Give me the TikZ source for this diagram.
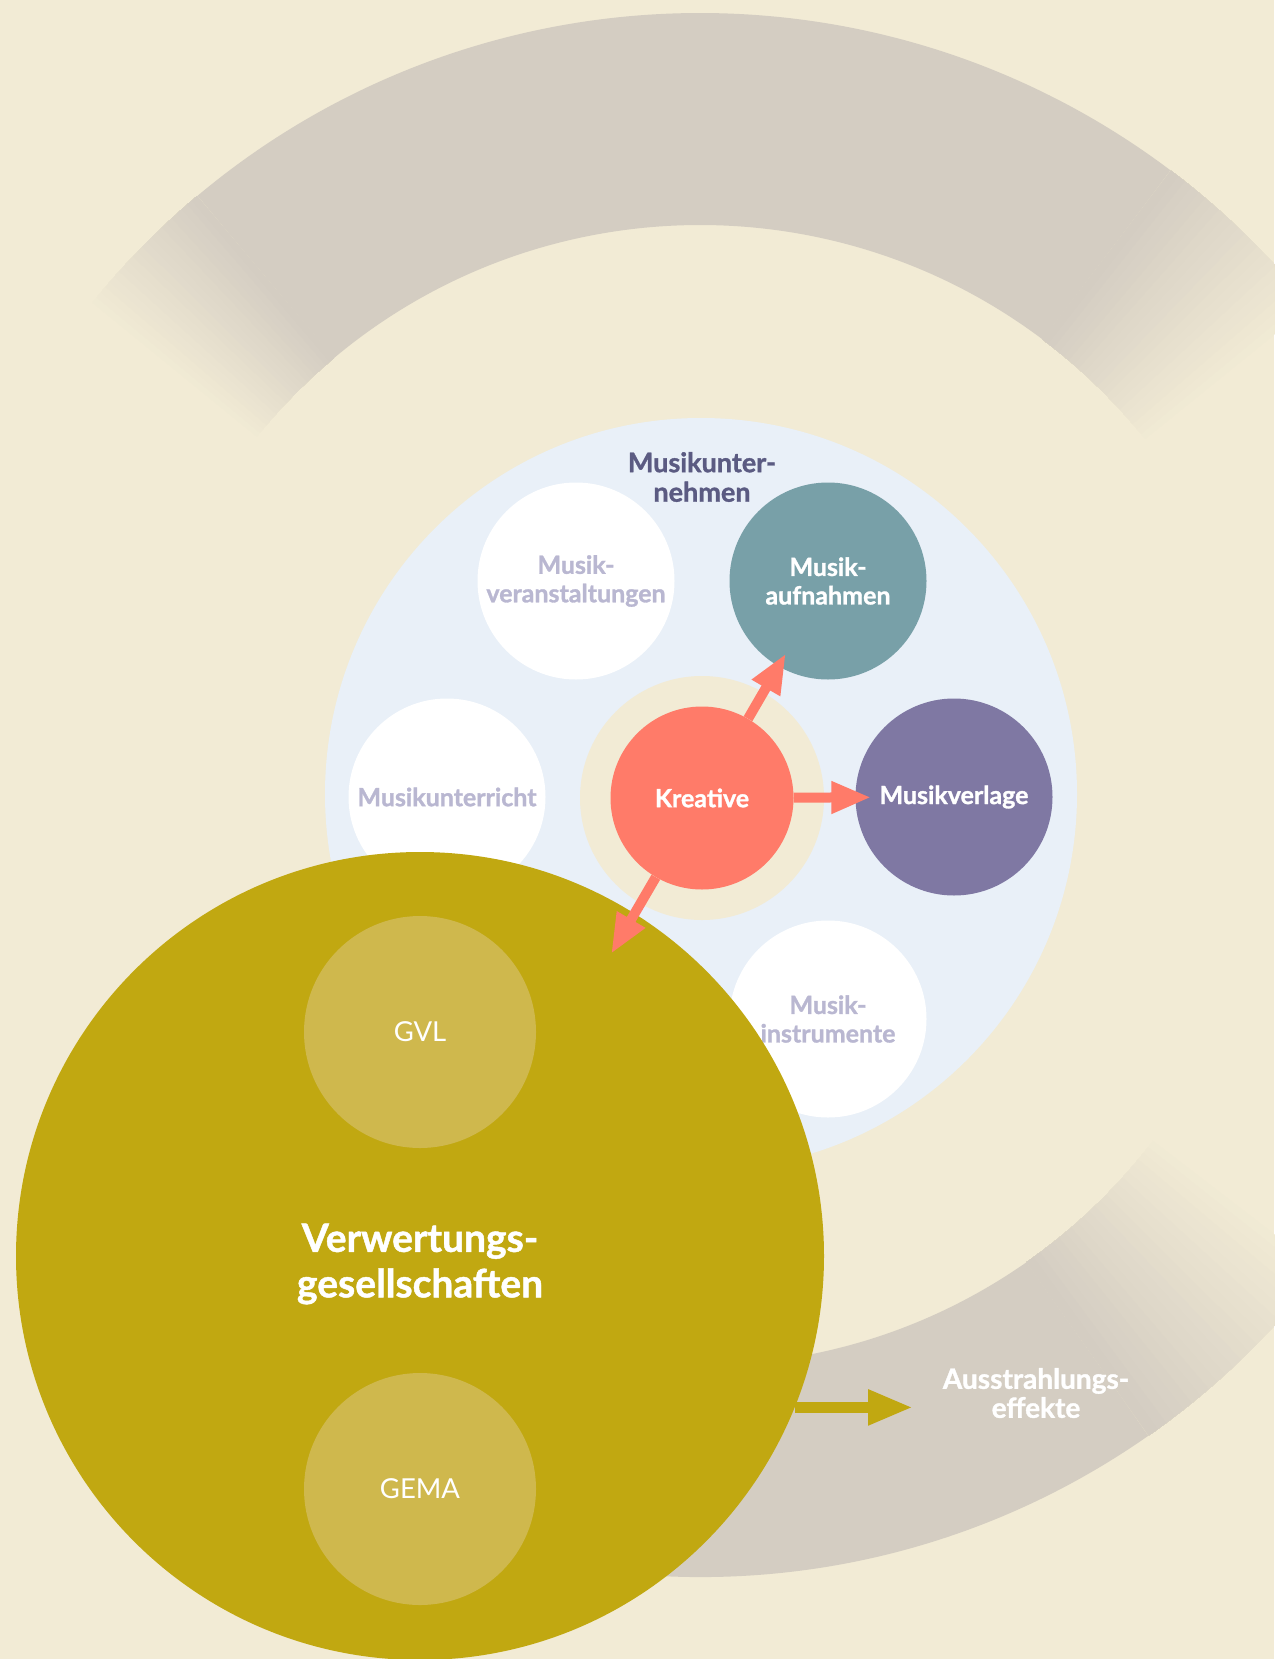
\documentclass[tikz,border=0pt]{standalone}
\usepackage{fontspec}
\setmainfont{Lato}[BoldFeatures={FakeBold=1.2}]
\usepackage{xcolor}
\usetikzlibrary{arrows.meta}
\definecolor{mkCreme}{HTML}{F2EBD5}
\definecolor{mkRing}{HTML}{D4CDC2}
\definecolor{mkHellblau}{HTML}{E9F0F8}
\definecolor{mkLachs}{HTML}{FF7B69}
\definecolor{mkPetrol}{HTML}{78A0A8}
\definecolor{mkLila}{HTML}{7F78A3}
\definecolor{mkGold}{HTML}{C1A811}
\definecolor{mkGoldHell}{HTML}{CFB84D}
\definecolor{mkBlass}{HTML}{B9B7D1}
\definecolor{mkDunkel}{HTML}{5B5B82}
\tikzset{
  kreis/.style={
    circle, fill=#1, text=white,
    minimum size=197pt, inner sep=0pt,
    align=center,
    font=\bfseries\fontsize{25}{28.5}\selectfont
  },
  ring/.style={line width=212pt, draw=mkRing},
  titel/.style={align=center, text=mkDunkel, font=\bfseries\fontsize{27}{29.5}\selectfont},
  pfeil/.style={
    -{Triangle[length=40pt, width=30pt]},
    mkLachs, line width=10pt
  },
  goldpfeil/.style={
    -{Triangle[length=45pt, width=33pt]},
    mkGold, line width=11pt
  }
}
\begin{document}
\begin{tikzpicture}[x=1pt, y=1pt]
  \useasboundingbox[fill=mkCreme] (0,0) rectangle (1274,-1659);
  \coordinate (mitte) at (700,-795);
  % Ring mit weichen Enden
  \draw[ring] (mitte) ++(53:676) arc[start angle=53, end angle=130, radius=676];
  \draw[ring] (mitte) ++(215:676) arc[start angle=215, end angle=305, radius=676];
  \foreach \von/\richtung/\schritt in {130/1/0.5, 53/-1/0.65, 305/1/0.8}{
    \foreach \i in {21,...,0}{
      \pgfmathsetmacro\spanne{\richtung*\schritt*(\i+1)}
      \pgfmathtruncatemacro\anteil{100-4.5*\i}
      \draw[ring, draw=mkRing!\anteil!mkCreme] (mitte) ++(\von:676) arc[start angle=\von, delta angle=\spanne, radius=676];
    }
  }
  % Musikunternehmen
  \node[circle, fill=mkHellblau, minimum size=752pt] (firmen) at (701,-794) {};
  \node[titel] (firmentitel) at (702,-477) {Musikunter-\\nehmen};
  \node[kreis=white, text=mkBlass] (veran) at (576,-581) {Musik-\\veranstaltungen};
  \node[kreis=mkPetrol] (aufn) at (828,-581) {Musik-\\aufnahmen};
  \node[kreis=white, text=mkBlass] (unterr) at (447,-797) {Musikunterricht};
  \node[kreis=mkLila] (verlag) at (954,-797) {Musikverlage};
  \node[kreis=white, text=mkBlass] (instr) at (828,-1019) {Musik-\\instrumente};
  \node[circle, fill=mkCreme, minimum size=244pt] (kreHof) at (702,-798) {};
  \node[kreis=mkLachs, minimum size=183pt] (kre) at (702,-798) {Kreative};
  % Verwertungsgesellschaften
  \node[kreis=mkGold, minimum size=808pt] (verw) at (420,-1256) {};
  \node[align=center, text=white, font=\bfseries\fontsize{39}{45.5}\selectfont] (verwtitel) at (420,-1264) {Verwertungs-\\gesellschaften};
  \node[kreis=mkGoldHell, minimum size=232pt, font=\fontsize{27.5}{30}\selectfont] (gvl) at (420,-1032) {GVL};
  \node[kreis=mkGoldHell, minimum size=232pt, font=\fontsize{27.5}{30}\selectfont] (gema) at (420,-1489) {GEMA};
  \node[align=center, text=white, font=\bfseries\fontsize{28}{29}\selectfont] (aus) at (1036,-1393) {Ausstrahlungs-\\effekte};
  \coordinate (verwSpitze) at (611,-954);
  \coordinate (ausSpitze) at (913,-1410);
  \draw[pfeil, shorten >=-15pt] (kre) -- (aufn);
  \draw[pfeil, shorten >=-16pt] (kre) -- (verlag);
  \draw[pfeil] (kre) -- (verwSpitze);
  \draw[goldpfeil] (verw.-22.4) -- (verw.-22.4 -| ausSpitze);
\end{tikzpicture}
\end{document}
